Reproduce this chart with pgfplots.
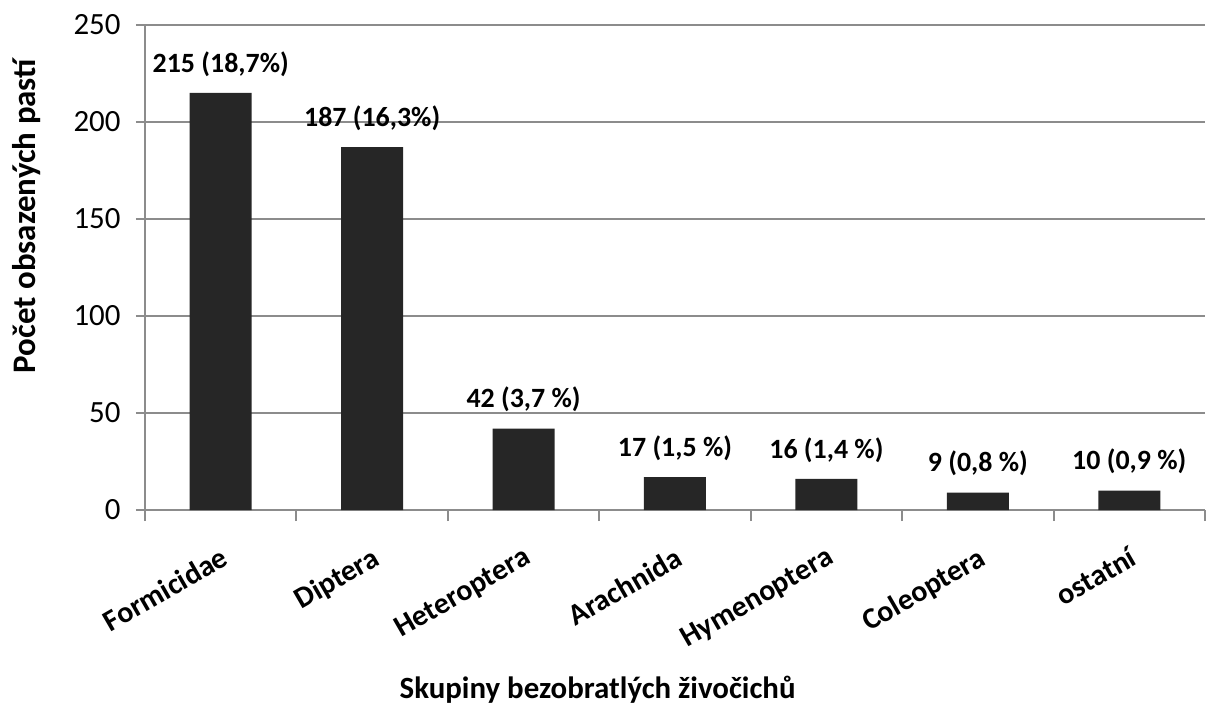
\documentclass[border=0pt]{standalone}
\usepackage{fontspec}
\setmainfont{Carlito}
\usepackage{pgfplots}
\pgfplotsset{compat=1.18}
\definecolor{barc}{HTML}{262626}
\definecolor{gridc}{HTML}{8C8C8C}
\begin{document}
\begin{tikzpicture}
\begin{axis}[
  width=1060bp, height=485bp, scale only axis,
  xmin=-0.5, xmax=6.5, ymin=0, ymax=250,
  ytick={0,50,...,250},
  xtick={0,...,6},
  xticklabels={Formicidae,Diptera,Heteroptera,Arachnida,Hymenoptera,Coleoptera,ostatní},
  minor xtick={-0.5,0.5,...,6.5},
  axis lines*=left,
  axis line style={-, gridc, line width=2bp},
  ymajorgrids, grid style={gridc, line width=2bp},
  tick align=outside,
  major tick length=9bp, minor tick length=11bp,
  x tick style={draw=none},
  minor x tick style={draw=gridc, line width=2bp},
  y tick style={draw=gridc, line width=2bp},
  /pgf/number format/assume math mode=true,
  yticklabel style={font=\fontsize{31}{35}\selectfont, xshift=-12bp},
  xticklabel style={font=\fontsize{30}{34}\selectfont\bfseries, xshift=0bp, yshift=-22bp, rotate=30, anchor=north east},
  ybar, bar width=62bp,
  nodes near coords, point meta=explicit symbolic,
  every node near coord/.append style={font=\fontsize{28}{32}\selectfont\bfseries, yshift=13bp, text=black},
  xlabel={Skupiny bezobratlých živočichů},
  ylabel={Počet obsazených pastí},
  xlabel style={font=\fontsize{31}{35}\selectfont\bfseries, at={(axis description cs:0.427,-0.371)}, anchor=center},
  ylabel style={font=\fontsize{33}{37}\selectfont\bfseries, at={(axis description cs:-0.112,0.606)}, anchor=center, rotate=0},
]
\addplot[fill=barc, draw=none] coordinates {
  (0,215) [215 (18,7\%)]
  (1,187) [187 (16,3\%)]
  (2,42)  [42 (3,7 \%)]
  (3,17)  [17 (1,5 \%)]
  (4,16)  [16 (1,4 \%)]
  (5,9)   [9 (0,8 \%)]
  (6,10)  [10 (0,9 \%)]
};
\end{axis}
\pgfresetboundingbox
\path (-145bp,-201bp) rectangle (1070bp,510bp);
\end{tikzpicture}
\end{document}
